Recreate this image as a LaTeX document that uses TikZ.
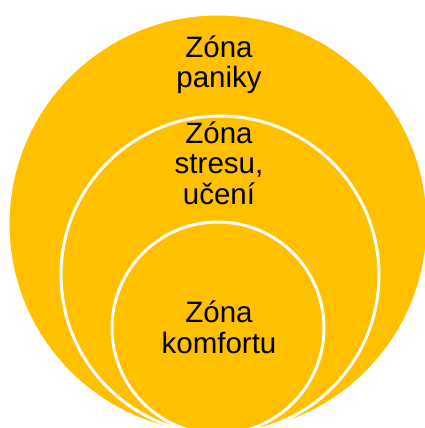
\documentclass[tikz,border=0pt]{standalone}
\usepackage{fontspec}
\setmainfont{Liberation Sans}
\definecolor{zgold}{RGB}{255,192,0}
\begin{document}
\begin{tikzpicture}[x=1pt,y=-1pt,
  zone/.style={circle, fill=zgold, draw=white, line width=3pt, inner sep=0pt, outer sep=0pt},
  lbl/.style={align=center, font=\fontsize{29.5}{30.5}\selectfont, text=black, inner sep=0pt}]
\useasboundingbox (0,0) rectangle (425,428);
\clip (0,0) rectangle (425,428);
\node[zone, minimum size=420pt] (outer) at (218,224) {};
\node[zone, minimum size=318pt] (middle) at (220,275) {};
\node[zone, minimum size=212pt] (inner) at (218,328) {};
\node[lbl, anchor=base] (tpanic) at (219,88) {Zóna\\paniky};
\node[lbl, anchor=base] (tstress) at (219,204) {Zóna\\stresu,\\učení};
\node[lbl, anchor=base] (tcomfort) at (219,353) {Zóna\\komfortu};
\end{tikzpicture}
\end{document}
